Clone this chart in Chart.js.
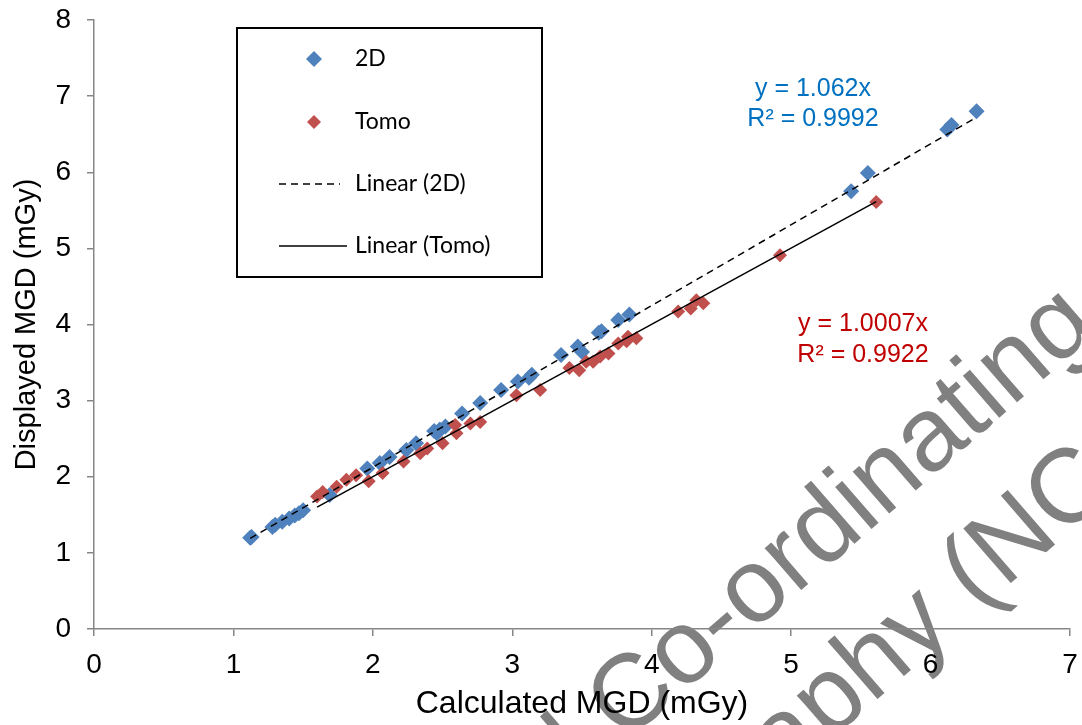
<!DOCTYPE html>
<html>
<head>
<meta charset="utf-8">
<script src="https://cdn.jsdelivr.net/npm/chart.js@4.4.1/dist/chart.umd.min.js"></script>
<style>
  html, body { margin: 0; padding: 0; background: #fff; }
  #wrap { width: 1082px; height: 725px; position: relative; }
</style>
</head>
<body>
<div id="wrap"><canvas id="mgdChart" width="1082" height="725"></canvas></div>
<script>
// Calculated vs displayed MGD (mGy)
const calc2D = [1.12, 1.13, 1.28, 1.30, 1.35, 1.40, 1.44, 1.47, 1.50, 1.69,
    1.96, 2.05, 2.12, 2.24, 2.31, 2.44, 2.46, 2.48, 2.52, 2.64, 2.77, 2.92,
    3.04, 3.12, 3.14, 3.35, 3.47, 3.50, 3.62, 3.64, 3.76, 3.84,
    5.43, 5.55, 6.12, 6.15, 6.33];
const disp2D = [1.20, 1.21, 1.34, 1.37, 1.41, 1.45, 1.49, 1.52, 1.56, 1.76,
    2.11, 2.18, 2.26, 2.35, 2.44, 2.60, 2.57, 2.62, 2.66, 2.83, 2.97, 3.14,
    3.25, 3.30, 3.34, 3.60, 3.71, 3.64, 3.89, 3.91, 4.06, 4.13,
    5.75, 5.99, 6.56, 6.62, 6.80];

const calcTomo = [1.60, 1.64, 1.74, 1.81, 1.88, 1.97, 2.07, 2.22, 2.34, 2.39,
    2.50, 2.59, 2.60, 2.70, 2.77, 3.03, 3.20, 3.41, 3.48, 3.53, 3.58, 3.63,
    3.69, 3.76, 3.82, 3.83, 3.89, 4.19, 4.28, 4.32, 4.37, 4.92, 5.61];
const dispTomo = [1.74, 1.80, 1.87, 1.96, 2.02, 1.94, 2.05, 2.20, 2.31, 2.37,
    2.44, 2.68, 2.57, 2.70, 2.72, 3.07, 3.14, 3.43, 3.40, 3.51, 3.51, 3.58,
    3.62, 3.75, 3.78, 3.84, 3.82, 4.17, 4.21, 4.32, 4.28, 4.91, 5.61];

// fitted trendlines through the origin
const slope2D = 1.062;
const slopeTomo = 1.0007;
const r2_2D = 0.9992;
const r2Tomo = 0.9922;

const xTicks = [0, 1, 2, 3, 4, 5, 6, 7];
const yTicks = [0, 1, 2, 3, 4, 5, 6, 7, 8];

const blue = '#4F81BD';
const red = '#C0504D';
const axisGrey = '#868686';

function toPoints(xs, ys) {
    return xs.map((x, i) => ({ x: x, y: ys[i] }));
}

function trendPoints(xs, slope) {
    const lo = Math.min(...xs);
    const hi = Math.max(...xs);
    return [{ x: lo, y: slope * lo }, { x: hi, y: slope * hi }];
}

// keep the plot box fixed regardless of tick label overhang
function noOverhang(scale) {
    scale.paddingTop = 0;
    scale.paddingBottom = 0;
    scale.paddingLeft = 0;
    scale.paddingRight = 0;
}

// faint watermark behind the plot
const watermarkPlugin = {
    id: 'watermark',
    beforeDraw(chart) {
        const ctx = chart.ctx;
        ctx.save();
        ctx.fillStyle = '#808080';
        ctx.font = '105px "Liberation Sans", Arial, sans-serif';
        ctx.textBaseline = 'alphabetic';
        const ang = -41 * Math.PI / 180;

        ctx.save();
        ctx.translate(624, 744);
        ctx.rotate(ang);
        const pre1 = 'National ';
        ctx.fillText(pre1, -ctx.measureText(pre1).width, 0);
        ctx.fillText('Co-ordinating Centre', 0, 0);
        ctx.restore();

        ctx.save();
        ctx.translate(828, 742);
        ctx.rotate(ang);
        const pre2 = 'Mammogra';
        ctx.fillText(pre2, -ctx.measureText(pre2).width, 0);
        ctx.fillText('phy (NCCPM)', 0, 0);
        ctx.restore();

        ctx.restore();
    }
};

// boxed legend in the upper left of the plot
const boxLegendPlugin = {
    id: 'boxLegend',
    afterDraw(chart) {
        const ctx = chart.ctx;
        const ds = chart.data.datasets;
        const box = { x: 237, y: 28, w: 305, h: 249 };
        ctx.save();
        ctx.fillStyle = '#fff';
        ctx.fillRect(box.x, box.y, box.w, box.h);
        ctx.strokeStyle = '#000';
        ctx.lineWidth = 2;
        ctx.strokeRect(box.x, box.y, box.w, box.h);

        const rows = [59, 122, 184, 246];
        const textX = 355;
        ctx.font = '23px Lato, "Open Sans", sans-serif';
        ctx.textBaseline = 'middle';
        ctx.fillStyle = '#000';

        // marker rows
        [0, 1].forEach(i => {
            const d = ds[i];
            const r = d.pointRadius;
            const cx = 314, cy = rows[i];
            ctx.fillStyle = d.backgroundColor;
            ctx.beginPath();
            ctx.moveTo(cx, cy - r);
            ctx.lineTo(cx + r, cy);
            ctx.lineTo(cx, cy + r);
            ctx.lineTo(cx - r, cy);
            ctx.closePath();
            ctx.fill();
            ctx.fillStyle = '#000';
            ctx.fillText(d.label, textX, cy);
        });

        // trendline rows
        [2, 3].forEach((i, k) => {
            const d = ds[i];
            const cy = rows[2 + k];
            ctx.strokeStyle = d.borderColor;
            ctx.lineWidth = d.borderWidth;
            ctx.setLineDash(d.borderDash || []);
            ctx.beginPath();
            ctx.moveTo(279, cy);
            ctx.lineTo(k === 0 ? 340 : 347, cy);
            ctx.stroke();
            ctx.setLineDash([]);
            ctx.fillText(d.label, textX, cy);
        });
        ctx.restore();
    }
};

// trendline equations
const equationPlugin = {
    id: 'equations',
    afterDraw(chart) {
        const ctx = chart.ctx;
        ctx.save();
        ctx.font = '25px "Liberation Sans", Arial, sans-serif';
        ctx.textAlign = 'center';
        ctx.textBaseline = 'middle';
        ctx.fillStyle = '#0070C0';
        ctx.fillText('y = ' + slope2D + 'x', 813, 89);
        ctx.fillText('R² = ' + r2_2D, 813, 119);
        ctx.fillStyle = '#C00000';
        ctx.fillText('y = ' + slopeTomo + 'x', 863, 324);
        ctx.fillText('R² = ' + r2Tomo, 863, 355);
        ctx.restore();
    }
};

const tickFont = { family: '"Liberation Sans", Arial, sans-serif', size: 28 };

const ctx = document.getElementById('mgdChart').getContext('2d');
const chart = new Chart(ctx, {
    type: 'scatter',
    data: {
        datasets: [
            {
                label: '2D',
                data: toPoints(calc2D, disp2D),
                backgroundColor: blue,
                borderColor: blue,
                borderWidth: 0,
                pointStyle: 'rectRot',
                pointRadius: 8,
                order: 3
            },
            {
                label: 'Tomo',
                data: toPoints(calcTomo, dispTomo),
                backgroundColor: red,
                borderColor: red,
                borderWidth: 0,
                pointStyle: 'rectRot',
                pointRadius: 7,
                order: 2
            },
            {
                label: 'Linear (2D)',
                data: trendPoints(calc2D, slope2D),
                showLine: true,
                borderColor: '#000',
                borderWidth: 1.5,
                borderDash: [7, 5],
                pointRadius: 0,
                order: 1
            },
            {
                label: 'Linear (Tomo)',
                data: trendPoints(calcTomo, slopeTomo),
                showLine: true,
                borderColor: '#000',
                borderWidth: 1.5,
                pointRadius: 0,
                order: 0
            }
        ]
    },
    options: {
        responsive: false,
        animation: false,
        layout: { padding: { left: 0, right: 12, top: 20, bottom: 0 } },
        plugins: {
            legend: { display: false },
            tooltip: { enabled: false }
        },
        scales: {
            x: {
                type: 'linear',
                min: xTicks[0],
                max: xTicks[xTicks.length - 1],
                afterBuildTicks: (scale) => { scale.ticks = xTicks.map(v => ({ value: v })); },
                afterFit: (scale) => { scale.height = 96; noOverhang(scale); },
                ticks: { color: '#000', font: tickFont, padding: 12, maxRotation: 0 },
                grid: { drawOnChartArea: false, drawTicks: true, tickLength: 7, color: axisGrey, lineWidth: 1.5 },
                border: { color: axisGrey, width: 1.5 },
                title: {
                    display: true,
                    text: 'Calculated MGD (mGy)',
                    color: '#000',
                    font: { family: '"Liberation Sans", Arial, sans-serif', size: 32 },
                    padding: { top: 0, bottom: 2 }
                }
            },
            y: {
                type: 'linear',
                min: yTicks[0],
                max: yTicks[yTicks.length - 1],
                afterBuildTicks: (scale) => { scale.ticks = yTicks.map(v => ({ value: v })); },
                afterFit: (scale) => { scale.width = 94; noOverhang(scale); },
                ticks: { color: '#000', font: tickFont, padding: 16 },
                grid: { drawOnChartArea: false, drawTicks: true, tickLength: 7, color: axisGrey, lineWidth: 1.5 },
                border: { color: axisGrey, width: 1.5 },
                title: {
                    display: true,
                    text: 'Displayed MGD (mGy)',
                    color: '#000',
                    font: { family: '"Liberation Sans", Arial, sans-serif', size: 29 },
                    padding: { top: 10, bottom: 0 }
                }
            }
        }
    },
    plugins: [watermarkPlugin, boxLegendPlugin, equationPlugin]
});
</script>
</body>
</html>
